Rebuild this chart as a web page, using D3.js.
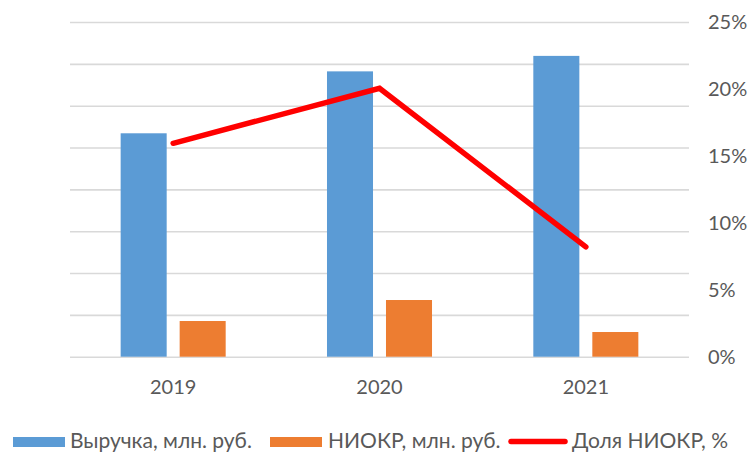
<!DOCTYPE html>
<html>
<head>
<meta charset="utf-8">
<script src="https://cdn.jsdelivr.net/npm/d3@7"></script>
<style>
  body { margin: 0; background: #fff; }
  svg text { font-family: Lato, "Open Sans", sans-serif; fill: #595959; }
</style>
</head>
<body>
<div id="chart-area"></div>
<script>
// data (left axis is hidden, units arbitrary)
var years = ["2019", "2020", "2021"];
var revenue = [5340, 6820, 7190];      // Выручка, млн. руб.
var niokr = [853, 1355, 590];          // НИОКР, млн. руб.
var share = [0.1594, 0.2005, 0.082];   // Доля НИОКР
var pctTicks = [0, 0.05, 0.10, 0.15, 0.20, 0.25];
var seriesNames = ["Выручка, млн. руб.", "НИОКР, млн. руб.", "Доля НИОКР, %"];
var colors = ["#5B9BD5", "#ED7D31", "#FF0000"];

var width = 753, height = 453;
var plotLeft = 70, plotRight = 689, plotTop = 22, plotBottom = 356.7;

var svg = d3.select("#chart-area").append("svg")
	.attr("width", width)
	.attr("height", height);

var x0 = d3.scaleBand().domain(years).range([plotLeft, plotRight])
	.paddingInner(0.491).paddingOuter(0.2455);
var x1 = d3.scaleBand().domain([0, 1]).range([0, x0.bandwidth()])
	.paddingInner(0.22).paddingOuter(0);
var yL = d3.scaleLinear().domain([0, 8000]).range([plotBottom, plotTop]);
var yR = d3.scaleLinear().domain([0, 0.25]).range([plotBottom, plotTop]);

// gridlines (from the hidden left axis)
svg.append("g")
	.attr("transform", "translate(" + plotLeft + ",0)")
	.call(d3.axisLeft(yL).tickValues(d3.range(0, 8001, 1000)).tickSize(-(plotRight - plotLeft)).tickFormat(""))
	.call(function(g){
		g.select(".domain").remove();
		g.selectAll("line").attr("stroke", "#D9D9D9").attr("stroke-width", 1.6);
	});

// bars
var groups = svg.selectAll(".year")
	.data(years)
	.enter().append("g")
		.attr("class", "year")
		.attr("transform", function(d){ return "translate(" + x0(d) + ",0)"; });

groups.selectAll("rect")
	.data(function(d, i){ return [revenue[i], niokr[i]]; })
	.enter().append("rect")
		.attr("x", function(d, j){ return x1(j); })
		.attr("y", function(d){ return yL(d); })
		.attr("width", x1.bandwidth())
		.attr("height", function(d){ return plotBottom - yL(d); })
		.style("fill", function(d, j){ return colors[j]; });

// share line
var line = d3.line()
	.x(function(d, i){ return x0(years[i]) + x0.bandwidth() / 2; })
	.y(function(d){ return yR(d); });

svg.append("path")
	.datum(share)
	.attr("d", line)
	.attr("fill", "none")
	.attr("stroke", colors[2])
	.attr("stroke-width", 5.5)
	.attr("stroke-linecap", "round")
	.attr("stroke-linejoin", "miter");

// x axis labels
svg.append("g")
	.attr("transform", "translate(0," + plotBottom + ")")
	.call(d3.axisBottom(x0).tickSize(0).tickPadding(0))
	.call(function(g){
		g.select(".domain").remove();
		g.selectAll("text")
			.attr("y", 37.6).attr("dy", null)
			.style("font-size", "20px");
	});

// right axis
svg.append("g")
	.attr("transform", "translate(" + (plotRight + 19) + ",0)")
	.call(d3.axisRight(yR).tickValues(pctTicks).tickSize(0).tickPadding(0).tickFormat(d3.format(".0%")))
	.call(function(g){
		g.select(".domain").remove();
		g.selectAll("text").style("font-size", "20px").attr("text-anchor", "start");
	});

// legend
var legendItems = [
	{ x: 13, textX: 70, kind: "rect", w: 52 },
	{ x: 270, textX: 328, kind: "rect", w: 52 },
	{ x: 511, textX: 572, kind: "line", w: 54 }
];
var legend = svg.append("g");
legendItems.forEach(function(it, i){
	if (it.kind === "rect") {
		legend.append("rect")
			.attr("x", it.x).attr("y", 437).attr("width", it.w).attr("height", 10)
			.style("fill", colors[i]);
	} else {
		legend.append("line")
			.attr("x1", it.x).attr("x2", it.x + it.w)
			.attr("y1", 441.5).attr("y2", 441.5)
			.attr("stroke", colors[i]).attr("stroke-width", 5.5)
			.attr("stroke-linecap", "round");
	}
	legend.append("text")
		.attr("x", it.textX).attr("y", 448)
		.style("font-size", "21px")
		.text(seriesNames[i]);
});
</script>
</body>
</html>
